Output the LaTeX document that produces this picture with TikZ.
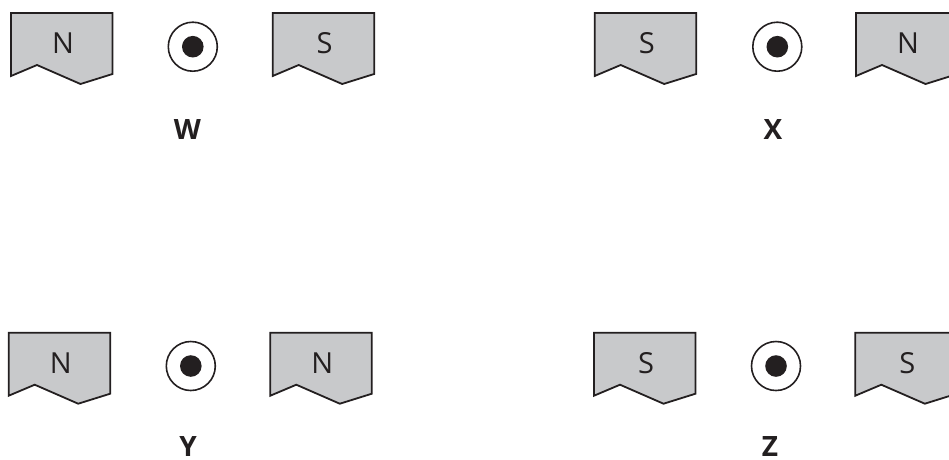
\documentclass[tikz,border=0pt]{standalone}
\usepackage{fontspec}
\setmainfont{Open Sans}
\definecolor{mag}{RGB}{200,201,203}
\definecolor{ink}{RGB}{35,31,32}
\newcommand\mymagnet[4]{%
  \draw[magnet] (#1,#2) -- ++(101.5,0) -- ++(0,61) -- ++(-32,10) -- ++(-43.5,-19) -- ++(-26,11) -- cycle;
  \node[pole] (#3) at (#1+52,#2+30) {#4};}
\newcommand\mywire[3]{%
  \node[wire] (#3) at (#1,#2) {};
  \node[wiredot] (#3d) at (#3.center) {};}
\begin{document}
\begin{tikzpicture}[x=1pt,y=-1pt,
  magnet/.style={draw=ink, fill=mag, line width=1.8pt, line join=miter},
  pole/.style={font=\fontsize{29}{32}\selectfont, text=ink, inner sep=0pt},
  lab/.style={font=\bfseries\fontsize{28}{32}\selectfont, text=ink, inner sep=0pt},
  wire/.style={circle, draw=ink, line width=1.6pt, minimum size=49pt, inner sep=0pt, outer sep=0pt},
  wiredot/.style={circle, fill=ink, minimum size=21.6pt, inner sep=0pt}]
\useasboundingbox (0,0) rectangle (949,459);
% W
\mymagnet{11}{13}{wN1}{N}
\mywire{192.8}{46.7}{cw}
\mymagnet{272.7}{13}{wS2}{S}
\node[lab] (lw) at (187.5,129) {W};
% X
\mymagnet{594.7}{13}{xS1}{S}
\mywire{777.3}{46.7}{cx}
\mymagnet{856}{13}{xN2}{N}
\node[lab] (lx) at (773,129) {X};
% Y
\mymagnet{8.7}{332.7}{yN1}{N}
\mywire{190.8}{366}{cy}
\mymagnet{270.3}{332.7}{yN2}{N}
\node[lab] (ly) at (188,446) {Y};
% Z
\mymagnet{594}{332.7}{zS1}{S}
\mywire{776}{366}{cz}
\mymagnet{855.3}{332.7}{zS2}{S}
\node[lab] (lz) at (770,446) {Z};
\end{tikzpicture}
\end{document}
